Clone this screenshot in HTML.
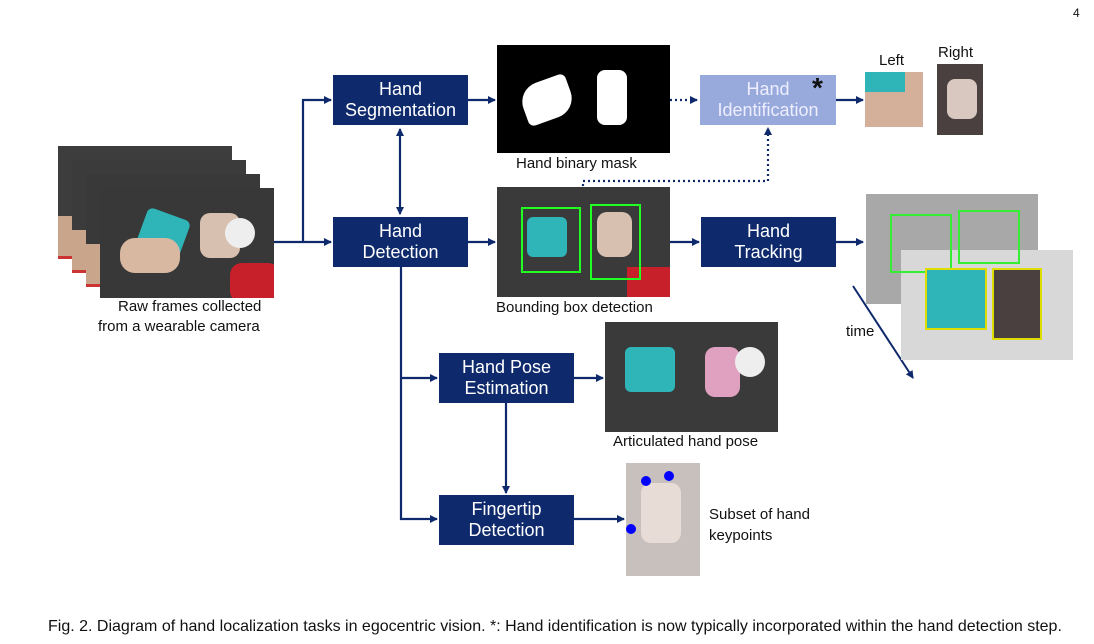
<!DOCTYPE html>
<html><head><meta charset="utf-8"><style>
body{margin:0;background:#fff;width:1094px;height:644px;position:relative;overflow:hidden;font-family:"Liberation Sans",Arial,sans-serif}
.b{position:absolute;background:#0f2a6c;color:#fff;font-size:18px;line-height:21px;text-align:center;display:flex;align-items:center;justify-content:center;box-sizing:border-box}
.t{position:absolute;font-size:15px;color:#111;white-space:nowrap}
.img{position:absolute;background:#3a3a3a;overflow:hidden}
</style></head><body>
<div class="t" style="left:1073px;top:6px;font-size:12px">4</div>

<!-- stacked frames -->
<div class="img" style="left:58px;top:146px;width:174px;height:110px;background:#3d3d3d;border-bottom:3px solid #c33"><div style="position:absolute;left:0;top:70px;width:20px;height:40px;background:#c9a58c"></div></div>
<div class="img" style="left:72px;top:160px;width:174px;height:110px;background:#3b3b3b;border-bottom:3px solid #c33"><div style="position:absolute;left:0;top:70px;width:20px;height:40px;background:#c9a58c"></div></div>
<div class="img" style="left:86px;top:174px;width:174px;height:110px;background:#393939;border-bottom:3px solid #c33"><div style="position:absolute;left:0;top:70px;width:20px;height:40px;background:#c9a58c"></div></div>
<div class="img" style="left:100px;top:188px;width:174px;height:110px;background:#383838">
 <div style="position:absolute;left:40px;top:25px;width:45px;height:45px;background:#2fb4b8;transform:rotate(20deg);border-radius:6px"></div>
 <div style="position:absolute;left:20px;top:50px;width:60px;height:35px;background:#d8b8a0;border-radius:15px"></div>
 <div style="position:absolute;left:100px;top:25px;width:40px;height:45px;background:#d8c0b0;border-radius:10px"></div>
 <div style="position:absolute;left:125px;top:30px;width:30px;height:30px;background:#eee;border-radius:50%"></div>
 <div style="position:absolute;left:130px;top:75px;width:50px;height:40px;background:#c8202a;border-radius:12px"></div>
</div>
<div class="t" style="left:118px;top:298px">Raw frames collected</div>
<div class="t" style="left:98px;top:318px">from a wearable camera</div>

<svg width="1094" height="644" style="position:absolute;left:0;top:0">
<defs><marker id="a" markerWidth="8" markerHeight="8" refX="7" refY="4" orient="auto" markerUnits="userSpaceOnUse"><path d="M0,0L8,4L0,8z" fill="#0f2a6c"/></marker>
<marker id="s" markerWidth="8" markerHeight="8" refX="1" refY="4" orient="auto" markerUnits="userSpaceOnUse"><path d="M8,0L0,4L8,8z" fill="#0f2a6c"/></marker></defs>
<g stroke="#0f2a6c" stroke-width="2.2" fill="none">
<path d="M274,242H331" marker-end="url(#a)"/>
<path d="M303,242V100H331" marker-end="url(#a)"/>
<path d="M400,129V214" marker-end="url(#a)" marker-start="url(#s)"/>
<path d="M401,267V519H437" marker-end="url(#a)"/>
<path d="M401,378H437" marker-end="url(#a)"/>
<path d="M468,100H495" marker-end="url(#a)"/>
<path d="M468,242H495" marker-end="url(#a)"/>
<path d="M670,242H699" marker-end="url(#a)"/>
<path d="M836,242H863" marker-end="url(#a)"/>
<path d="M836,100H863" marker-end="url(#a)"/>
<path d="M574,378H603" marker-end="url(#a)"/>
<path d="M506,403V493" marker-end="url(#a)"/>
<path d="M574,519H624" marker-end="url(#a)"/>
<path d="M670,100H697" stroke-dasharray="2,3" marker-end="url(#a)"/>
<path d="M583,186V181H768V128" stroke-dasharray="2,3" marker-end="url(#a)"/>
</g>
<line x1="853" y1="286" x2="913" y2="378" stroke="#0f2a6c" stroke-width="2" marker-end="url(#a)"/>
</svg>

<div class="b" style="left:333px;top:75px;width:135px;height:50px">Hand<br>Segmentation</div>
<div class="b" style="left:333px;top:217px;width:135px;height:50px">Hand<br>Detection</div>
<div class="b" style="left:700px;top:75px;width:136px;height:50px;background:#98a9dc;color:#eef">Hand<br>Identification</div>
<div style="position:absolute;left:812px;top:72px;font-size:28px;font-weight:bold;color:#111">*</div>
<div class="b" style="left:701px;top:217px;width:135px;height:50px">Hand<br>Tracking</div>
<div class="b" style="left:439px;top:353px;width:135px;height:50px">Hand Pose<br>Estimation</div>
<div class="b" style="left:439px;top:495px;width:135px;height:50px">Fingertip<br>Detection</div>

<!-- mask -->
<div class="img" style="left:497px;top:45px;width:173px;height:108px;background:#000">
 <div style="position:absolute;left:25px;top:35px;width:50px;height:40px;background:#fff;border-radius:20px 6px 20px 6px;transform:rotate(-20deg)"></div>
 <div style="position:absolute;left:100px;top:25px;width:30px;height:55px;background:#fff;border-radius:8px"></div>
</div>
<div class="t" style="left:516px;top:155px">Hand binary mask</div>

<!-- bbox -->
<div class="img" style="left:497px;top:187px;width:173px;height:110px">
 <div style="position:absolute;left:30px;top:30px;width:40px;height:40px;background:#2fb4b8;border-radius:6px"></div>
 <div style="position:absolute;left:100px;top:25px;width:35px;height:45px;background:#d8c0b0;border-radius:10px"></div>
 <div style="position:absolute;left:130px;top:80px;width:45px;height:35px;background:#c8202a"></div>
 <div style="position:absolute;left:24px;top:20px;width:56px;height:62px;border:2px solid #2f2"></div>
 <div style="position:absolute;left:93px;top:17px;width:47px;height:72px;border:2px solid #2f2"></div>
</div>
<div class="t" style="left:496px;top:299px">Bounding box detection</div>

<!-- left/right -->
<div class="t" style="left:879px;top:52px">Left</div>
<div class="t" style="left:938px;top:44px">Right</div>
<div class="img" style="left:865px;top:72px;width:58px;height:55px;background:#d4b09a"><div style="position:absolute;left:0;top:0;width:40px;height:20px;background:#2fb4b8"></div></div>
<div class="img" style="left:937px;top:64px;width:46px;height:71px;background:#4a4040"><div style="position:absolute;left:10px;top:15px;width:30px;height:40px;background:#d8c8c0;border-radius:8px"></div></div>

<!-- tracking -->
<div class="img" style="left:866px;top:194px;width:172px;height:110px;background:#a8a8a8"></div>
<div class="img" style="left:901px;top:250px;width:172px;height:110px;background:#d8d8d8"></div>
<div style="position:absolute;left:890px;top:214px;width:58px;height:55px;border:2px solid #3e3"></div>
<div style="position:absolute;left:958px;top:210px;width:58px;height:50px;border:2px solid #3e3"></div>
<div class="img" style="left:925px;top:268px;width:58px;height:58px;border:2px solid #dd0;background:#2fb4b8"></div>
<div class="img" style="left:992px;top:268px;width:46px;height:68px;border:2px solid #dd0;background:#4a4040"></div>
<div class="t" style="left:846px;top:323px">time</div>

<!-- pose -->
<div class="img" style="left:605px;top:322px;width:173px;height:110px">
 <div style="position:absolute;left:20px;top:25px;width:50px;height:45px;background:#2fb4b8;border-radius:6px"></div>
 <div style="position:absolute;left:100px;top:25px;width:35px;height:50px;background:#e0a0c0;border-radius:10px"></div>
 <div style="position:absolute;left:130px;top:25px;width:30px;height:30px;background:#eee;border-radius:50%"></div>
</div>
<div class="t" style="left:613px;top:433px">Articulated hand pose</div>

<!-- fingertip -->
<div class="img" style="left:626px;top:463px;width:74px;height:113px;background:#c8c0bc">
 <div style="position:absolute;left:15px;top:20px;width:40px;height:60px;background:#e8dcd6;border-radius:10px"></div>
 <div style="position:absolute;left:15px;top:13px;width:10px;height:10px;background:#00f;border-radius:50%"></div>
 <div style="position:absolute;left:38px;top:8px;width:10px;height:10px;background:#00f;border-radius:50%"></div>
 <div style="position:absolute;left:0;top:61px;width:10px;height:10px;background:#00f;border-radius:50%"></div>
</div>
<div class="t" style="left:709px;top:506px">Subset of hand</div>
<div class="t" style="left:709px;top:527px">keypoints</div>

<div class="t" style="left:48px;top:618px;font-size:16px">Fig. 2. Diagram of hand localization tasks in egocentric vision. *: Hand identification is now typically incorporated within the hand detection step.</div>
</body></html>
